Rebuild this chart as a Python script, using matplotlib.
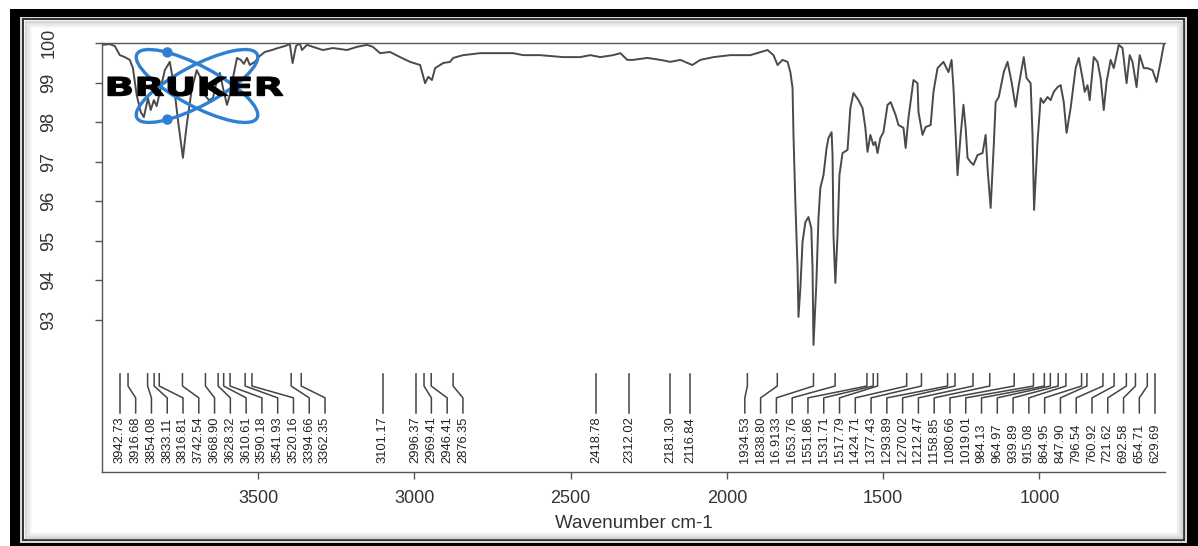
import matplotlib
matplotlib.use('Agg')
import numpy as np
import matplotlib.pyplot as plt
from matplotlib.patches import Ellipse, Circle, Rectangle, PathPatch
from matplotlib.textpath import TextPath
from matplotlib.font_manager import FontProperties
from matplotlib.transforms import Affine2D

plt.rcParams['font.family'] = ['Liberation Sans', 'DejaVu Sans']

# -------- spectrum -------- #
wn = [4000, 3975, 3959, 3943, 3927, 3911, 3901, 3889, 3876, 3866, 3853, 3844, 3834, 3825,
      3812, 3799, 3783, 3770, 3757, 3741, 3729, 3713, 3697, 3684, 3671, 3658, 3645, 3632,
      3623, 3610, 3600, 3591, 3581, 3568, 3556, 3546, 3536, 3527, 3511, 3495, 3479, 3456,
      3437, 3415, 3399, 3390, 3379, 3367, 3360, 3344, 3325, 3293, 3261, 3216, 3184, 3152,
      3133, 3110, 3078, 3046, 3014, 2982, 2966, 2956, 2944, 2934, 2908, 2886, 2876, 2844,
      2790, 2735, 2684, 2652, 2598, 2524, 2470, 2437, 2405, 2364, 2341, 2319, 2300, 2255,
      2213, 2181, 2149, 2111, 2085, 2043, 1989, 1957, 1925, 1870, 1851, 1838, 1822, 1806,
      1797, 1790, 1787, 1781, 1774, 1771, 1765, 1758, 1749, 1739, 1730, 1726, 1723, 1714,
      1707, 1701, 1691, 1681, 1675, 1665, 1662, 1659, 1653, 1646, 1640, 1630, 1614, 1605,
      1595, 1579, 1566, 1557, 1550, 1541, 1531, 1525, 1518, 1509, 1499, 1486, 1476, 1460,
      1451, 1435, 1428, 1419, 1403, 1390, 1387, 1374, 1364, 1348, 1339, 1326, 1307, 1291,
      1281, 1275, 1268, 1262, 1252, 1243, 1236, 1230, 1220, 1211, 1198, 1182, 1172, 1166,
      1156, 1146, 1140, 1130, 1114, 1102, 1089, 1076, 1066, 1050, 1041, 1028, 1022, 1017,
      1006, 996, 987, 974, 964, 954, 942, 932, 922, 913, 900, 884, 874, 862, 855, 846, 839,
      826, 814, 804, 794, 785, 772, 762, 746, 734, 721, 711, 702, 689, 679, 666, 654, 638,
      625, 612, 602]
tr = [99.96, 99.98, 99.93, 99.70, 99.65, 99.58, 99.37, 98.69, 98.26, 98.13, 98.61, 98.31, 98.56, 98.41,
      98.87, 99.32, 99.53, 98.94, 98.06, 97.10, 97.93, 98.82, 99.32, 99.12, 98.69, 98.56, 98.61, 99.07,
      99.25, 98.77, 98.44, 98.69, 99.12, 99.63, 99.58, 99.48, 99.63, 99.45, 99.53, 99.68, 99.78, 99.83,
      99.88, 99.93, 99.98, 99.50, 99.93, 100.0, 99.83, 99.96, 99.91, 99.83, 99.88, 99.83, 99.91, 99.96,
      99.91, 99.75, 99.78, 99.65, 99.53, 99.45, 98.99, 99.15, 99.07, 99.37, 99.50, 99.53, 99.63, 99.70,
      99.75, 99.75, 99.75, 99.70, 99.70, 99.65, 99.65, 99.70, 99.65, 99.70, 99.75, 99.58, 99.58, 99.63,
      99.58, 99.53, 99.58, 99.45, 99.58, 99.65, 99.70, 99.70, 99.70, 99.83, 99.70, 99.45, 99.58, 99.53,
      99.27, 98.87, 97.68, 95.98, 94.31, 93.07, 93.80, 94.97, 95.47, 95.60, 95.32, 94.31, 92.36, 93.88,
      95.58, 96.34, 96.66, 97.35, 97.60, 97.75, 97.17, 95.15, 93.93, 95.15, 96.66, 97.22, 97.30, 98.36,
      98.74, 98.56, 98.36, 97.86, 97.25, 97.68, 97.42, 97.50, 97.22, 97.60, 97.75, 98.44, 98.51, 98.18,
      97.93, 97.86, 97.35, 98.11, 99.07, 98.99, 98.26, 97.68, 97.88, 97.93, 98.77, 99.37, 99.53, 99.27,
      99.58, 98.87, 97.68, 96.66, 97.68, 98.44, 97.86, 97.10, 96.99, 96.92, 97.17, 97.22, 97.68, 96.84,
      95.83, 97.42, 98.51, 98.64, 99.27, 99.53, 99.02, 98.39, 98.94, 99.65, 99.12, 98.99, 97.68, 95.78,
      97.50, 98.61, 98.49, 98.64, 98.56, 98.77, 98.89, 98.94, 98.51, 97.73, 98.36, 99.37, 99.63, 99.12, 98.77, 98.94, 98.56,
      99.65, 99.53, 99.12, 98.31, 99.02, 99.58, 99.37, 99.96, 99.88, 98.99, 99.70, 99.53, 98.89, 99.70, 99.37, 99.37, 99.32,
      99.02, 99.53, 99.96]

# -------- peak picks -------- #
peak_wn = [3942.73, 3916.68, 3854.08, 3833.11, 3816.81, 3742.54, 3668.90, 3628.32, 3610.61,
           3590.18, 3541.93, 3520.16, 3394.66, 3362.35, 3101.17, 2996.37, 2969.41, 2946.41,
           2876.35, 2418.78, 2312.02, 2181.30, 2116.84, 1934.53, 1838.80, 1723.0, 1653.76,
           1551.86, 1531.71, 1517.79, 1424.71, 1377.43, 1293.89, 1270.02, 1212.47, 1158.85,
           1080.66, 1019.01, 984.13, 964.97, 939.89, 915.08, 864.95, 847.90, 796.54, 760.92,
           721.62, 692.58, 654.71, 629.69]
peak_txt = ['3942.73', '3916.68', '3854.08', '3833.11', '3816.81', '3742.54', '3668.90', '3628.32',
            '3610.61', '3590.18', '3541.93', '3520.16', '3394.66', '3362.35', '3101.17', '2996.37',
            '2969.41', '2946.41', '2876.35', '2418.78', '2312.02', '2181.30', '2116.84', '1934.53',
            '1838.80', '16.9133', '1653.76', '1551.86', '1531.71', '1517.79', '1424.71', '1377.43',
            '1293.89', '1270.02', '1212.47', '1158.85', '1080.66', '1019.01', '984.13', '964.97',
            '939.89', '915.08', '864.95', '847.90', '796.54', '760.92', '721.62', '692.58',
            '654.71', '629.69']

xticks = [3500, 3000, 2500, 2000, 1500, 1000]
yticks = [93, 94, 95, 96, 97, 98, 99, 100]

W, H = 1198, 546
fig = plt.figure(figsize=(W / 100, H / 100), dpi=100)

# frame drawn in pixel space behind everything
bg = fig.add_axes([0, 0, 1, 1], zorder=0)
bg.set_xlim(0, W)
bg.set_ylim(H, 0)
bg.axis('off')
bg.add_patch(Rectangle((10, 9), W - 10, H - 9, fc='black', ec='none'))
bg.add_patch(Rectangle((20, 17), 1167, 526, fc='#d8d8d8', ec='none'))
bg.add_patch(Rectangle((23, 19), 1161, 521, fc='white', ec='#303030', lw=1.4))
for k in range(1, 9):
    g = 0.80 + 0.025 * k
    bg.add_patch(Rectangle((24 + k, 20 + k), 1159 - 2 * k, 519 - 2 * k,
                           fc='none', ec=(g, g, g), lw=1.0))
bg.add_patch(Rectangle((33, 29), 1141, 501, fc='white', ec='none'))

ax = fig.add_axes([102 / W, 1 - 471.7 / H, (1165 - 102) / W, (471.7 - 43.3) / H], zorder=1)
ax.patch.set_alpha(0)
ax.plot(wn, tr, color='#4a4a4a', lw=1.4)
ax.set_xlim(4000, 598)
ax.set_ylim(89.15, 100)
ax.spines['right'].set_visible(False)
for s in ['left', 'top', 'bottom']:
    ax.spines[s].set_color('#555555')
    ax.spines[s].set_linewidth(1.0)
ax.set_xticks(xticks)
ax.set_yticks(yticks)
ax.set_yticklabels([str(v) for v in yticks], rotation=90, va='center')
ax.tick_params(axis='both', length=5, width=1.0, color='#555555', labelsize=13,
               labelcolor='#333333')
ax.tick_params(axis='x', pad=8)
ax.tick_params(axis='y', pad=27)
ax.set_xlabel('Wavenumber cm-1', fontsize=13.5, color='#333333', labelpad=6)

# peak label layout: spread labels apart, keep them inside the plot
gap = 50.5
pos = list(peak_wn)
for i in range(1, len(pos)):
    pos[i] = min(pos[i], pos[i - 1] - gap)
pos[-1] = max(pos[-1], peak_wn[-1])
for i in range(len(pos) - 2, -1, -1):
    pos[i] = max(pos[i], pos[i + 1] + gap)

y_top, y_b1, y_b2, y_end, y_txt = 91.63, 91.32, 91.02, 90.64, 89.37
for p, lx, t in zip(peak_wn, pos, peak_txt):
    if abs(p - lx) < 1e-6:
        ax.plot([p, p], [y_top, y_end], color='#444444', lw=1.1)
    else:
        ax.plot([p, p, lx, lx], [y_top, y_b1, y_b2, y_end], color='#444444', lw=1.1)
    ax.text(lx, y_txt, t, rotation=90, ha='center', va='bottom', fontsize=9.3,
            color='#222222')

# BRUKER logo overlay
lg = fig.add_axes([0, 0, 1, 1], zorder=2)
lg.set_xlim(0, W)
lg.set_ylim(H, 0)
lg.axis('off')
blue = '#2f7fd3'
cx, cy, A, B = 197, 86, 68, 20
for ang in (28, -28):
    lg.add_patch(Ellipse((cx, cy), 2 * A, 2 * B, angle=ang, fill=False, ec=blue, lw=2.4))
    th = np.radians(ang)
    t = np.radians(232 if ang > 0 else 128)
    dx = A * np.cos(th) * np.cos(t) - B * np.sin(th) * np.sin(t)
    dy = A * np.sin(th) * np.cos(t) + B * np.cos(th) * np.sin(t)
    lg.add_patch(Circle((cx + dx, cy + dy), 4.5, color=blue))

fp = FontProperties(family='DejaVu Sans', weight='bold')
tp = TextPath((0, 0), 'BRUKER', size=20, prop=fp)
bb = tp.get_extents()
sx = (283 - 108) / bb.width
sy = (96 - 77) / bb.height
tf = Affine2D().translate(-bb.x0, -bb.y0).scale(sx, -sy).translate(108, 96)
lg.add_patch(PathPatch(tf.transform_path(tp), fc='black', ec='black', lw=0.8))

fig.savefig('out.png', dpi=100)
